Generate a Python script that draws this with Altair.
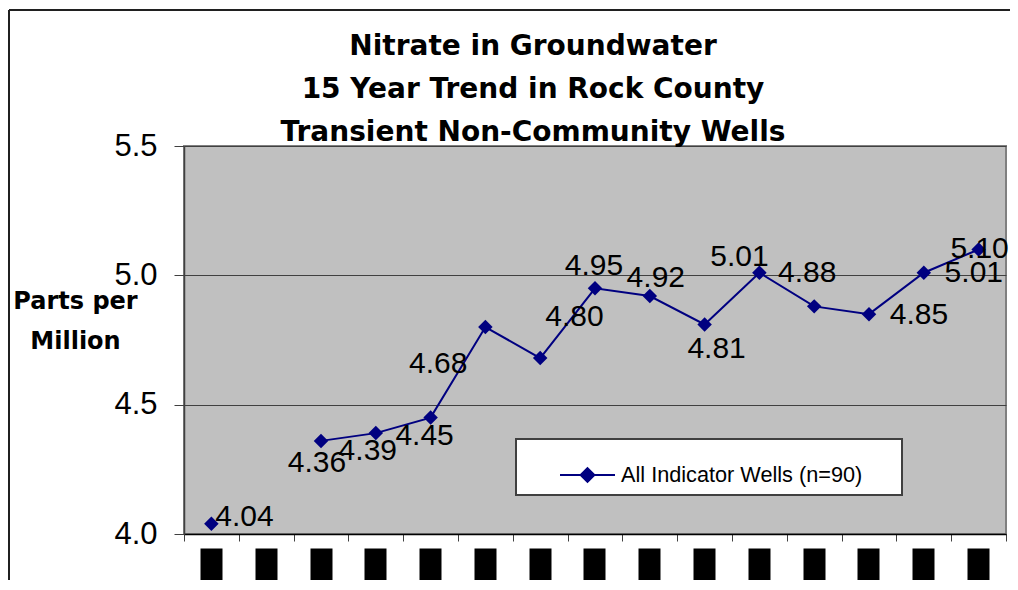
import altair as alt
import pandas as pd

# ---- data ----
categories = [str(i) for i in range(1, 16)]          # 15 yearly periods (labels redacted in source)
values = [4.04, None, 4.36, 4.39, 4.45, 4.80, 4.68, 4.95, 4.92, 4.81, 5.01, 4.88, 4.85, 5.01, 5.10]
value_labels = ["4.04", None, "4.36", "4.39", "4.45", "4.80", "4.68", "4.95", "4.92",
                "4.81", "5.01", "4.88", "4.85", "5.01", "5.10"]
series_name = "All Indicator Wells (n=90)"
y_ticks = [4.0, 4.5, 5.0, 5.5]
title_lines = ["Nitrate in Groundwater", "15 Year Trend in Rock County", "Transient Non-Community Wells"]
y_title = ["Parts per", "Million"]

df = pd.DataFrame({"cat": categories, "value": values, "label": value_labels,
                   "series": [series_name] * len(categories)})

# ---- style ----
NAVY = "#000080"
LABEL_FONT = "Liberation Sans"
# label offsets (dx, dy) in pixels, as placed in the reference
label_offsets = {0: (33, -7), 2: (-4, 22), 3: (-8, 18), 4: (-6, 18), 5: (89, -10),
                 6: (-102, 6), 7: (-1, -22), 8: (6, -18), 9: (12, 25), 10: (-20, -16),
                 11: (-7, -33), 12: (50, 1), 13: (50, 0), 14: (1, 0)}

xscale = alt.Scale(type="band", domain=categories, paddingInner=0, paddingOuter=0)
yscale = alt.Scale(domain=[4.0, 5.5], nice=False, zero=False)

y_axis = alt.Axis(values=y_ticks, format=".1f", grid=True, gridColor="#404040", gridWidth=1,
                  domainColor="#404040", domainWidth=1.5, tickColor="#404040", tickSize=10,
                  labelFont=LABEL_FONT, labelFontSize=31, labelColor="black", labelPadding=17,
                  title=y_title, titleAngle=0, titleFont="DejaVu Sans", titleFontSize=24,
                  titleFontWeight="bold", titleColor="black", titleAlign="center",
                  titleBaseline="alphabetic", titleLineHeight=40, titleX=-109, titleY=162)

x_axis_main = alt.Axis(orient="bottom", title=None, labels=False, grid=False, domainColor="black",
                       domainWidth=1.5, tickColor="#404040", tickSize=7, tickBand="extent")
x_axis_boxes = alt.Axis(orient="bottom", title=None, labels=False, grid=False, domain=False,
                        tickColor="black", tickSize=37, tickWidth=22, tickCap="butt", offset=14)

y_enc = alt.Y("value:Q", scale=yscale, axis=y_axis)

line = alt.Chart(df).mark_line(color=NAVY, strokeWidth=2, invalid="break-paths-show-domains").encode(
    x=alt.X("cat:O", scale=xscale, axis=x_axis_main), y=y_enc)

points = alt.Chart(df).mark_point(shape="diamond", filled=True, size=210, opacity=1).encode(
    x=alt.X("cat:O", scale=xscale, axis=x_axis_boxes), y=y_enc,
    color=alt.Color("series:N", scale=alt.Scale(range=[NAVY]),
                    legend=alt.Legend(orient="none", legendX=332, legendY=293, title=" ",
                                      titleOrient="right", titleFontSize=1, titlePadding=32,
                                      padding=7.5, fillColor="white", strokeColor="#404040",
                                      symbolType="M-1,0H1M0,-0.25L0.25,0L0,0.25L-0.25,0Z",
                                      symbolSize=3025, symbolStrokeWidth=2,
                                      symbolFillColor=NAVY, symbolStrokeColor=NAVY,
                                      symbolOffset=35.5, labelOffset=5, labelLimit=500,
                                      labelFont=LABEL_FONT, labelFontSize=21.7, labelColor="black")))

texts = []
for i, (dx, dy) in label_offsets.items():
    texts.append(alt.Chart(df).transform_filter(alt.datum.cat == categories[i]).mark_text(
        font=LABEL_FONT, fontSize=30, color="black", align="center", baseline="middle",
        dx=dx, dy=dy).encode(x=alt.X("cat:O", scale=xscale, axis=None), y=y_enc, text="label:N"))

frame = alt.Chart(pd.DataFrame({"a": [0]})).mark_rule(color="#202020", strokeWidth=2).encode(
    x=alt.value(-175), y=alt.value(-136), y2=alt.value(600))
frame_top = alt.Chart(pd.DataFrame({"a": [0]})).mark_rule(color="#202020", strokeWidth=2).encode(
    x=alt.value(-175), x2=alt.value(900), y=alt.value(-136))

chart = alt.layer(line, points, *texts, frame, frame_top).resolve_axis(x="independent").properties(
    width=822, height=388,
    background="white",
    autosize=alt.AutoSizeParams(type="none"),
    padding={"left": 176, "top": 138, "right": 4, "bottom": 46},
    title=alt.Title(title_lines, font="DejaVu Sans", fontSize=28, fontWeight="bold", color="black",
                    lineHeight=43, anchor="middle", dx=-62, offset=-138),
).configure_view(fill="#C0C0C0", stroke="#808080", strokeWidth=2).configure_legend(strokeWidth=2)

chart.save("out.html", embed_options={"renderer": "svg", "actions": False})
